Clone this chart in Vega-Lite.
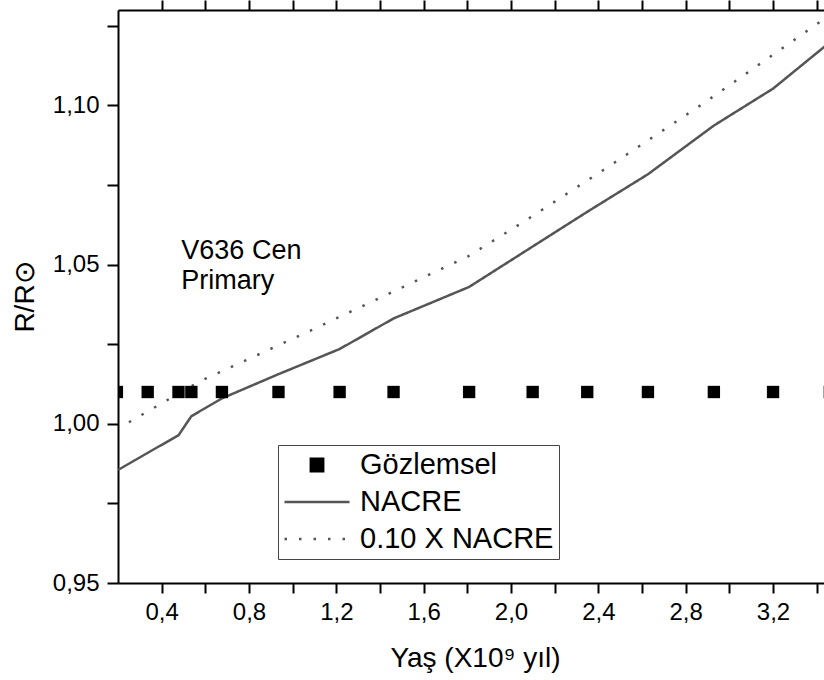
{
  "$schema": "https://vega.github.io/schema/vega-lite/v6.json",
  "width": 714,
  "height": 573,
  "autosize": "none",
  "padding": {"left": 118, "top": 10, "right": -8, "bottom": 97},
  "background": "white",
  "config": {
    "view": {"stroke": null},
    "font": "Liberation Sans",
    "axis": {
      "grid": false,
      "domainColor": "black",
      "domainWidth": 2,
      "tickColor": "black",
      "tickWidth": 2,
      "labelColor": "black",
      "titleColor": "black",
      "labelFontSize": 24,
      "titleFontSize": 28,
      "titleFontWeight": "normal",
      "labelFont": "Liberation Sans",
      "titleFont": "Liberation Sans",
      "labelOverlap": false,
      "labelFlush": false
    }
  },
  "datasets": {
    "obs": [
      {"age": 0.195, "r": 1.01, "series": "Gözlemsel"},
      {"age": 0.336, "r": 1.01, "series": "Gözlemsel"},
      {"age": 0.477, "r": 1.01, "series": "Gözlemsel"},
      {"age": 0.536, "r": 1.01, "series": "Gözlemsel"},
      {"age": 0.676, "r": 1.01, "series": "Gözlemsel"},
      {"age": 0.935, "r": 1.01, "series": "Gözlemsel"},
      {"age": 1.215, "r": 1.01, "series": "Gözlemsel"},
      {"age": 1.462, "r": 1.01, "series": "Gözlemsel"},
      {"age": 1.808, "r": 1.01, "series": "Gözlemsel"},
      {"age": 2.099, "r": 1.01, "series": "Gözlemsel"},
      {"age": 2.349, "r": 1.01, "series": "Gözlemsel"},
      {"age": 2.627, "r": 1.01, "series": "Gözlemsel"},
      {"age": 2.929, "r": 1.01, "series": "Gözlemsel"},
      {"age": 3.2, "r": 1.01, "series": "Gözlemsel"},
      {"age": 3.46, "r": 1.01, "series": "Gözlemsel"}
    ],
    "models": [
      {"age": 0.2, "r": 0.9855, "series": "NACRE"},
      {"age": 0.336, "r": 0.9909, "series": "NACRE"},
      {"age": 0.477, "r": 0.9964, "series": "NACRE"},
      {"age": 0.536, "r": 1.0024, "series": "NACRE"},
      {"age": 0.676, "r": 1.008, "series": "NACRE"},
      {"age": 0.935, "r": 1.0156, "series": "NACRE"},
      {"age": 1.215, "r": 1.0235, "series": "NACRE"},
      {"age": 1.462, "r": 1.0331, "series": "NACRE"},
      {"age": 1.808, "r": 1.043, "series": "NACRE"},
      {"age": 2.099, "r": 1.0557, "series": "NACRE"},
      {"age": 2.349, "r": 1.0666, "series": "NACRE"},
      {"age": 2.627, "r": 1.0784, "series": "NACRE"},
      {"age": 2.929, "r": 1.0937, "series": "NACRE"},
      {"age": 3.2, "r": 1.1053, "series": "NACRE"},
      {"age": 3.47, "r": 1.1204, "series": "NACRE"},
      {"age": 0.25, "r": 1.0005, "series": "0.10 X NACRE"},
      {"age": 0.576, "r": 1.0134, "series": "0.10 X NACRE"},
      {"age": 1.057, "r": 1.0285, "series": "0.10 X NACRE"},
      {"age": 1.803, "r": 1.0526, "series": "0.10 X NACRE"},
      {"age": 2.061, "r": 1.0636, "series": "0.10 X NACRE"},
      {"age": 2.442, "r": 1.0806, "series": "0.10 X NACRE"},
      {"age": 2.882, "r": 1.1007, "series": "0.10 X NACRE"},
      {"age": 3.47, "r": 1.1289, "series": "0.10 X NACRE"}
    ],
    "notes": [
      {"age": 0.49, "r": 1.0518, "label": "V636 Cen"},
      {"age": 0.49, "r": 1.0422, "label": "Primary"}
    ]
  },
  "layer": [
    {
      "data": {"name": "models"},
      "mark": {"type": "line", "strokeWidth": 2.5, "clip": true},
      "encoding": {
        "x": {
          "field": "age", "type": "quantitative",
          "scale": {"domain": [0.2, 3.47], "nice": false, "zero": false},
          "axis": {
            "orient": "bottom",
            "values": [0.4, 0.6, 0.8, 1.0, 1.2, 1.4, 1.6, 1.8, 2.0, 2.2, 2.4, 2.6, 2.8, 3.0, 3.2, 3.4],
            "labelExpr": "round(datum.value*10)%4==0 ? replace(format(datum.value,'.1f'),'.',',') : ''",
            "tickSize": 10,
            "labelPadding": 7,
            "title": "Yaş (X10⁹ yıl)",
            "titlePadding": 20,
            "encode": {"ticks": {"y2": {"condition": {"test": "round(datum.value*10)%4==0", "value": 10}, "value": 5}}}
          }
        },
        "y": {
          "field": "r", "type": "quantitative",
          "scale": {"domain": [0.95, 1.13], "nice": false, "zero": false},
          "axis": {
            "orient": "left",
            "values": [0.95, 0.975, 1.0, 1.025, 1.05, 1.075, 1.1, 1.125],
            "labelExpr": "round(datum.value*1000)%50==0 ? replace(format(datum.value,'.2f'),'.',',') : ''",
            "tickSize": 11,
            "labelPadding": 8,
            "title": "R/R⊙",
            "titlePadding": 13,
            "encode": {"ticks": {"x2": {"condition": {"test": "round(datum.value*1000)%50==0", "value": -11}, "value": -5}}}
          }
        },
        "color": {
          "field": "series", "type": "nominal",
          "scale": {"domain": ["Gözlemsel", "NACRE", "0.10 X NACRE"], "range": ["#000000", "#555555", "#555555"]},
          "legend": {
            "title": null,
            "orient": "none",
            "legendX": 160,
            "legendY": 435,
            "direction": "vertical",
            "strokeColor": "#444444",
            "padding": 5,
            "symbolSize": 4225,
            "clipHeight": 30,
            "rowPadding": 7,
            "labelFontSize": 29,
            "labelFont": "Liberation Sans",
            "labelColor": "black",
            "labelOffset": 9,
            "labelLimit": 400,
            "symbolStrokeWidth": 2.5
          }
        },
        "strokeDash": {
          "field": "series", "type": "nominal",
          "scale": {"domain": ["Gözlemsel", "NACRE", "0.10 X NACRE"], "range": [[1, 0], [1, 0], [2.5, 12]]}
        }
      }
    },
    {
      "data": {"name": "obs"},
      "mark": {"type": "point", "filled": true, "size": 4225, "opacity": 1, "clip": true},
      "encoding": {
        "x": {
          "field": "age", "type": "quantitative",
          "axis": {
            "orient": "top",
            "values": [0.4, 0.6, 0.8, 1.0, 1.2, 1.4, 1.6, 1.8, 2.0, 2.2, 2.4, 2.6, 2.8, 3.0, 3.2, 3.4],
            "labels": false,
            "title": null,
            "ticks": true,
            "tickSize": 10,
            "tickColor": "black",
            "tickWidth": 2,
            "encode": {"ticks": {"y2": {"condition": {"test": "round(datum.value*10)%4==0", "value": 10}, "value": 5}}}
          }
        },
        "y": {
          "field": "r", "type": "quantitative",
          "axis": {
            "orient": "right",
            "values": [0.95, 0.975, 1.0, 1.025, 1.05, 1.075, 1.1, 1.125],
            "labels": false,
            "title": null,
            "ticks": true,
            "tickSize": 10,
            "tickColor": "black",
            "tickWidth": 2,
            "encode": {"ticks": {"x2": {"condition": {"test": "round(datum.value*1000)%50==0", "value": -10}, "value": -5}}}
          }
        },
        "color": {"field": "series", "type": "nominal"},
        "shape": {
          "field": "series", "type": "nominal",
          "scale": {"domain": ["Gözlemsel", "NACRE", "0.10 X NACRE"], "range": ["M-0.19,-0.19H0.19V0.19H-0.19Z", "stroke", "stroke"]}
        }
      }
    },
    {
      "data": {"name": "notes"},
      "mark": {"type": "text", "align": "left", "baseline": "alphabetic", "fontSize": 27, "font": "Liberation Sans", "color": "black"},
      "encoding": {
        "x": {"field": "age", "type": "quantitative", "axis": null},
        "y": {"field": "r", "type": "quantitative", "axis": null},
        "text": {"field": "label", "type": "nominal"}
      }
    }
  ],
  "resolve": {"axis": {"x": "independent", "y": "independent"}}
}
